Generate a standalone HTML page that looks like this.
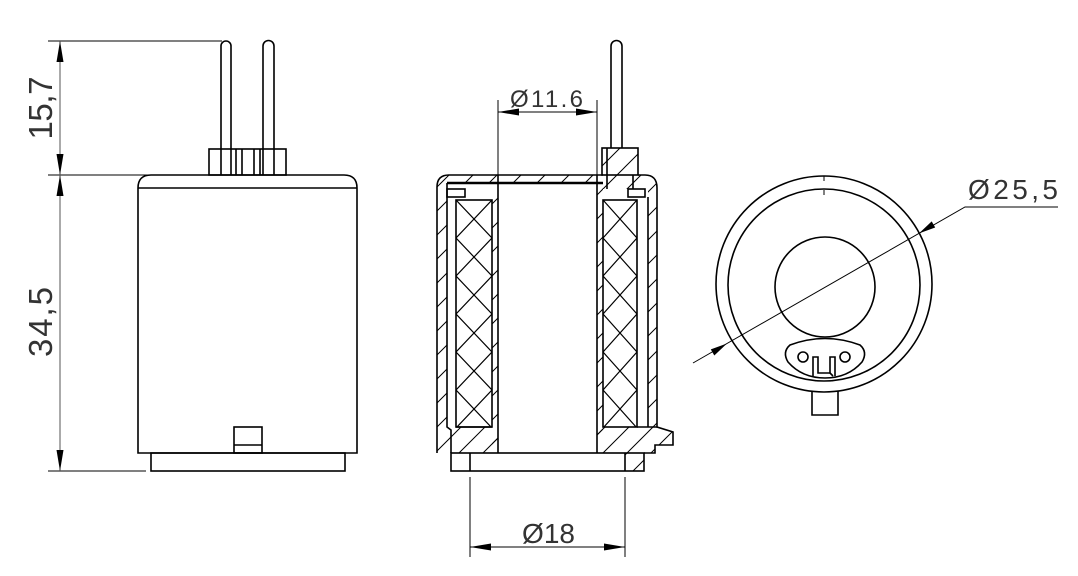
<!DOCTYPE html>
<html><head><meta charset="utf-8"><style>html,body{margin:0;padding:0;background:#fff}svg{display:block}</style></head><body>
<svg width="1078" height="576" viewBox="0 0 1078 576" xmlns="http://www.w3.org/2000/svg">
<defs>
<pattern id="h" patternUnits="userSpaceOnUse" width="24" height="24"><path d="M-2,26 L26,-2 M-2,2 L2,-2 M22,26 L26,22" stroke="#000" stroke-width="1"/></pattern>
<pattern id="cl" patternUnits="userSpaceOnUse" x="456" y="200" width="36" height="38"><path d="M0,0 L36,38 M0,38 L36,0" stroke="#000" stroke-width="1.2"/></pattern>
<pattern id="cr" patternUnits="userSpaceOnUse" x="603" y="200" width="34" height="38"><path d="M0,0 L34,38 M0,38 L34,0" stroke="#000" stroke-width="1.2"/></pattern>
</defs>
<g fill="none" stroke="#000" stroke-width="1.6">
<path d="M138,453 V188 Q138,175 151,175 H344 Q357,175 357,188 V453 Z"/>
<line x1="138" y1="188" x2="357" y2="188"/>
<rect x="151" y="453" width="194" height="18"/>
<rect x="209" y="149" width="77" height="26"/>
<path d="M236,149V175 M242,149V175 M254,149V175 M260,149V175"/>
<path d="M221,175 V46 A5,5 0 0 1 231,46 V175"/>
<path d="M263,175 V46 A5.5,5.5 0 0 1 274,46 V175"/>
<rect x="234" y="427" width="28" height="26"/>
<line x1="234" y1="445" x2="262" y2="445"/>
</g>
<g stroke="#000" stroke-width="1" fill="none">
<line x1="48" y1="41" x2="222" y2="41"/>
<line x1="48" y1="175" x2="209" y2="175"/>
<line x1="48" y1="471" x2="146" y2="471"/>
<line x1="60" y1="41" x2="60" y2="471" stroke="#555"/>
</g>
<g fill="#000">
<polygon points="60,41 56.5,62 63.5,62"/>
<polygon points="60,175 56.5,154 63.5,154"/>
<polygon points="60,175 56.5,196 63.5,196"/>
<polygon points="60,471 56.5,450 63.5,450"/>
</g>
<g font-family="Liberation Sans, sans-serif" fill="#333" font-size="33">
<text x="52" y="108" text-anchor="middle" transform="rotate(-90 52 108)" textLength="63">15,7</text>
<text x="52" y="322" text-anchor="middle" transform="rotate(-90 52 322)" textLength="70">34,5</text>
</g>

<g fill="url(#h)" stroke="none">
<path d="M437,453 V187 Q437,175 449,175 H603 V183 H447 V453 Z"/>
<rect x="492" y="183" width="6" height="270"/>
<rect x="447" y="427" width="51" height="26"/>
<rect x="597" y="175" width="6" height="278"/>
<path d="M597,427 H657 L673,432 V445 H655 V453 H597 Z"/>
<rect x="602" y="148" width="36" height="41"/>
<path d="M638,175 H645 Q657,175 657,188 V427 H648 V189 H638 Z"/>
<rect x="625" y="453" width="19" height="18"/>
</g>
<g fill="#fff" stroke="#000" stroke-width="1.6">
<rect x="447" y="189" width="18" height="8"/>
<rect x="628" y="189" width="17" height="8"/>
<rect x="456" y="200" width="36" height="227" fill="url(#cl)"/>
<rect x="603" y="200" width="34" height="227" fill="url(#cr)"/>
</g>
<g fill="none" stroke="#000" stroke-width="1.6">
<path d="M437,453 V187 Q437,175 449,175 H603"/>
<line x1="447" y1="183" x2="603" y2="183" stroke-width="2.6"/>
<path d="M447,183 V427 L451,430 V453"/>
<path d="M498,175 V453 M597,175 V453"/>
<rect x="451" y="453" width="193" height="18"/>
<path d="M470,453 V471 M625,453 V471"/>
<path d="M611,148 V46 A5.5,5.5 0 0 1 622,46 V148"/>
<rect x="602" y="148" width="36" height="27"/>
<path d="M607,148 V189 M633,175 V189"/>
<path d="M638,175 H645 Q657,175 657,188 V427 L673,432 V445 H655 V453 H644"/>
<path d="M648,197 V427 M637,427 H657"/>
<path d="M456,427 H492"/>
</g>
<g stroke="#000" stroke-width="1" fill="none">
<path d="M498,100 V175 M597,100 V175 M498,112 H597"/>
<path d="M470,477 V557 M625,477 V557 M470,547 H625"/>
</g>
<g fill="#000">
<polygon points="498,112 519,108.5 519,115.5"/>
<polygon points="597,112 576,108.5 576,115.5"/>
<polygon points="470,547 491,543.5 491,550.5"/>
<polygon points="625,547 604,543.5 604,550.5"/>
</g>
<g font-family="Liberation Sans, sans-serif" fill="#333">
<text x="510" y="107" font-size="24" textLength="73">Ø11.6</text>
<text x="522" y="543" font-size="28" textLength="53">Ø18</text>
<text x="968" y="199" font-size="28" textLength="90">Ø25,5</text>
</g>

<g fill="none" stroke="#000" stroke-width="1.6">
<circle cx="824" cy="284" r="108"/>
<circle cx="824" cy="285" r="96"/>
<circle cx="825" cy="287" r="50"/>
<path d="M824,176 V181 M824,190 V195" stroke-width="1"/>
<path d="M790,345 Q825,332 860,345 Q868,352 862,362 Q848,378 825,378 Q802,378 788,362 Q782,352 790,345 Z"/>
<circle cx="803" cy="357" r="5"/>
<circle cx="845" cy="357" r="5"/>
<path d="M813,376 V357 H818 V373 H830 V357 H835 V376"/>
<path d="M830,373 L833,376"/>
<path d="M812,391 V415 H838 V391"/>
</g>
<g stroke="#000" stroke-width="1" fill="none">
<path d="M693,363 L965,207 H1058"/>
</g>
<g fill="#000">
<polygon points="727,343.5 710.8,349.4 714.3,355.5"/>
<polygon points="919,233.4 935.2,227.5 931.7,221.4"/>
</g>
</svg>
</body></html>
